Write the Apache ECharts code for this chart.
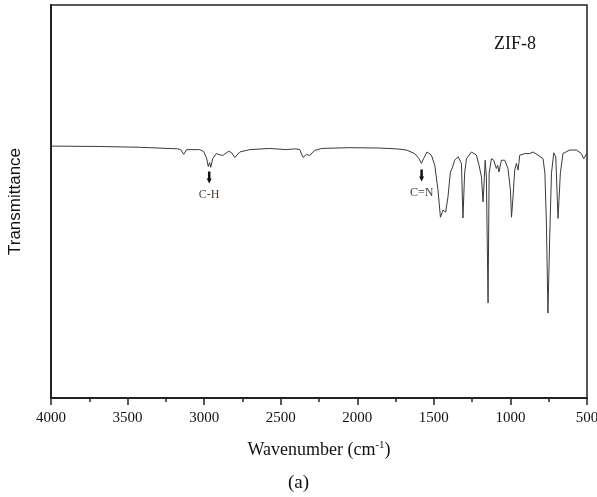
<!DOCTYPE html>
<html>
<head>
<meta charset="utf-8">
<script src="https://cdn.jsdelivr.net/npm/echarts@6/dist/echarts.min.js"></script>
<style>
  html, body { margin: 0; padding: 0; background: #fff; }
  #chart { width: 597px; height: 497px; }
</style>
</head>
<body>
<div id="chart"></div>
<script>
// FTIR spectrum of ZIF-8
const wavenumber = [
  4000, 3682, 3421, 3173, 3153, 3133, 3114, 3029, 3003, 2983,
  2973, 2964, 2957, 2944, 2920, 2898, 2879, 2840, 2820, 2800,
  2767, 2702, 2572, 2463, 2402, 2376, 2354, 2332, 2311, 2278,
  2232, 2049, 1854, 1745, 1679, 1625, 1599, 1581, 1566, 1545,
  1516, 1494, 1473, 1457, 1440, 1423, 1408, 1392, 1380, 1374,
  1364, 1342, 1320, 1310, 1299, 1287, 1255, 1222, 1205, 1189,
  1179, 1171, 1165, 1157, 1146, 1139, 1124, 1109, 1092, 1083,
  1075, 1059, 1037, 1016, 1000, 993, 983, 972, 961, 950,
  939, 907, 874, 853, 820, 787, 775, 765, 755, 744,
  732, 717, 704, 696, 689, 683, 674, 657, 613, 569,
  537, 522, 508, 500
]
const transmittance = [
  64.1, 64.0, 63.8, 63.4, 63.2, 62.0, 63.2, 63.2, 62.7, 60.9,
  58.9, 59.9, 58.7, 60.9, 62.2, 61.9, 61.7, 62.8, 62.4, 61.2,
  62.6, 63.2, 63.5, 63.2, 63.4, 63.2, 61.2, 62.0, 61.7, 63.0,
  63.5, 63.7, 63.6, 63.4, 63.1, 62.2, 61.0, 59.7, 61.0, 62.6,
  61.8, 59.2, 52.9, 46.0, 47.8, 47.3, 51.1, 57.5, 58.5, 58.0,
  60.5, 61.4, 59.7, 45.8, 57.2, 60.9, 62.6, 61.8, 59.2, 56.2,
  49.9, 55.4, 60.5, 56.2, 24.2, 57.2, 60.9, 60.5, 58.4, 59.2,
  57.5, 60.5, 60.5, 58.4, 52.9, 46.0, 51.2, 58.0, 59.7, 58.0,
  61.8, 62.2, 62.2, 62.6, 61.8, 60.9, 57.2, 44.5, 21.6, 40.2,
  57.2, 62.4, 61.4, 52.9, 45.7, 50.3, 57.2, 62.2, 63.1, 63.1,
  62.2, 60.9, 61.8, 62.3
]
// band labels: [wavenumber, arrow position, text]
const bands = [
  [2967, 56.1, 'C-H'],
  [1580, 56.6, 'C=N']
]
const xTicks = [4000, 3500, 3000, 2500, 2000, 1500, 1000, 500]

const chart = echarts.init(document.getElementById('chart'))

const serif = 'Liberation Serif'

chart.setOption({
  backgroundColor: '#fff',
  animation: false,
  title: [{
    text: 'ZIF-8',
    left: 489,
    top: 30,
    textStyle: { fontFamily: serif, fontSize: 18, fontWeight: 'normal', color: '#111' }
  }, {
    text: '(a)',
    left: 'center',
    top: 469,
    textStyle: { fontFamily: serif, fontSize: 19, fontWeight: 'normal', color: '#111' }
  }],
  grid: {
    left: 51,
    right: 10,
    top: 5,
    bottom: 99,
    outerBoundsMode: 'none',
    containLabel: false,
    show: true,
    borderColor: '#222',
    borderWidth: 1.5
  },
  xAxis: {
    type: 'value',
    inverse: true,
    min: 500,
    max: 4000,
    interval: 500,
    name: 'Wavenumber (cm{sup|-1})',
    nameLocation: 'middle',
    nameGap: 42,
    nameTextStyle: {
      fontFamily: serif,
      fontSize: 18,
      color: '#111',
      rich: {
        sup: { fontFamily: serif, fontSize: 11, color: '#111', verticalAlign: 'top', padding: [0, 0, 10, 0] }
      }
    },
    axisLine: { lineStyle: { color: '#222', width: 2 } },
    axisTick: { show: true, inside: false, length: 7, lineStyle: { color: '#222', width: 1.5 } },
    minorTick: { show: true, splitNumber: 2, length: 4, lineStyle: { color: '#222', width: 1.5 } },
    axisLabel: {
      fontFamily: serif,
      fontSize: 15,
      color: '#111',
      margin: 13,
      hideOverlap: false,
      showMinLabel: true,
      showMaxLabel: true,
      formatter: v => (xTicks.indexOf(v) >= 0 ? String(v) : '')
    },
    splitLine: { show: false }
  },
  yAxis: {
    type: 'value',
    min: 0,
    max: 100,
    name: 'Transmittance',
    nameLocation: 'middle',
    nameGap: 27,
    nameTextStyle: { fontFamily: 'Liberation Sans', fontSize: 17, color: '#111' },
    axisLine: { show: true, lineStyle: { color: '#222', width: 2 } },
    axisTick: { show: false },
    axisLabel: { show: false },
    splitLine: { show: false }
  },
  series: [{
    type: 'line',
    data: wavenumber.map((w, i) => [w, transmittance[i]]),
    showSymbol: false,
    smooth: false,
    lineStyle: { color: '#3a3a3a', width: 1 },
    markPoint: {
      silent: true,
      symbol: 'path://M1,0 L3,0 L3,7 L4,7 L2,12 L0,7 L1,7 Z',
      symbolSize: [5, 12],
      itemStyle: { color: '#111' },
      label: {
        show: true,
        position: 'bottom',
        distance: 5,
        fontFamily: serif,
        fontSize: 12,
        color: '#4a4038',
        formatter: p => p.name
      },
      data: bands.map(b => ({ name: b[2], coord: [b[0], b[1]] }))
    }
  }]
})
</script>
</body>
</html>
